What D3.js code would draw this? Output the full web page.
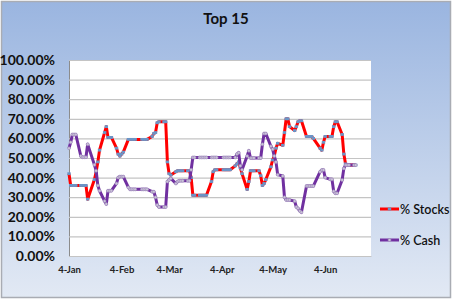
<!DOCTYPE html>
<html>
<head>
<meta charset="utf-8">
<script src="https://cdn.jsdelivr.net/npm/d3@7"></script>
<style>
  body { margin: 0; background: #fff; }
  svg { display: block; }
  text { font-family: Lato, "Open Sans", sans-serif; }
</style>
</head>
<body>
<svg width="452" height="300"></svg>
<script>
// trading days, 2010
var dates = [
  "01-04","01-05","01-06","01-07","01-08","01-11","01-12","01-13","01-14","01-15",
  "01-19","01-20","01-21","01-22","01-25","01-26","01-27","01-28","01-29",
  "02-01","02-02","02-03","02-04","02-05","02-08","02-09","02-10","02-11","02-12",
  "02-16","02-17","02-18","02-19","02-22","02-23","02-24","02-25","02-26",
  "03-01","03-02","03-03","03-04","03-05","03-08","03-09","03-10","03-11","03-12",
  "03-15","03-16","03-17","03-18","03-19","03-22","03-23","03-24","03-25","03-26",
  "03-29","03-30","03-31",
  "04-01","04-05","04-06","04-07","04-08","04-09","04-12","04-13","04-14","04-15","04-16",
  "04-19","04-20","04-21","04-22","04-23","04-26","04-27","04-28","04-29","04-30",
  "05-03","05-04","05-05","05-06","05-07","05-10","05-11","05-12","05-13","05-14",
  "05-17","05-18","05-19","05-20","05-21","05-24","05-25","05-26","05-27","05-28",
  "06-01","06-02","06-03","06-04","06-07","06-08","06-09","06-10","06-11",
  "06-14","06-15","06-16","06-17","06-18","06-21","06-22"
];

var stocks = [
  42, 36, 36, 36, 36, 36, 36, 36, 36, 29,
  39, 43, 48, 54, 63, 66, 60.5, 60.5, 60.5,
  55, 52, 51, 52, 53, 59.5, 59.5, 59.5, 59.5, 59.5,
  59.5, 59.5, 59.5, 59.5, 61, 62.5, 63, 68, 68.5,
  68.5, 68.5, 48, 42, 41.3, 43, 43.5, 43.5, 43.5, 43.5,
  43.5, 43.5, 40, 31, 31, 31, 31, 31, 31, 31,
  38, 43, 44,
  44, 44, 44, 44, 44, 44, 46, 47, 48, 45, 42,
  34, 38, 43.5, 43.5, 43.5, 43.5, 41, 36, 37, 39,
  45.5, 49, 51, 55, 57.5, 56.5, 63, 70, 70, 66,
  64, 66, 68.5, 69, 69, 61, 61, 61, 61, 60,
  55, 54, 58, 61, 61, 61, 66, 68.5, 68.5,
  62, 52, 47, 46.4, 46.4, 46.4, 46.4
];

var cash = [
  55, 58, 62, 62, 62, 51, 50.4, 50.4, 50.4, 57,
  46.5, 43.5, 36, 33.3, 28, 26.5, 33.3, 33.3, 33.3,
  37, 40, 40.5, 40.5, 40.5, 35, 34, 34, 34, 34,
  34, 34, 34, 34, 32.8, 32.8, 30, 26, 25,
  25, 25, 38, 38.8, 39.6, 37, 38, 38.4, 38.4, 38.4,
  38.4, 38.4, 44, 50.3, 50.3, 50.3, 50.3, 50.3, 50.3, 50.3,
  50.3, 50.3, 50.3,
  50.3, 50.3, 50.3, 50.3, 50.3, 50.3, 50.3, 52, 52.7, 46, 44,
  51, 53.7, 50, 50, 50, 50, 50, 57, 62.5, 62.5,
  56, 54.5, 51, 48, 41.5, 40.8, 30, 28.6, 28.6, 28.6,
  28, 25, 24.3, 23, 22.3, 35.7, 35.7, 35.7, 35.7, 35.7,
  43, 43.9, 43.9, 40, 39.1, 39.1, 33, 32, 32,
  38.8, 44.7, 46.4, 46.4, 46.4, 46.4, 46.4
];

var yTicks = [0, 0.1, 0.2, 0.3, 0.4, 0.5, 0.6, 0.7, 0.8, 0.9, 1];
var xTicks = ["2010-01-04", "2010-02-04", "2010-03-04", "2010-04-04", "2010-05-04", "2010-06-04"];
var seriesNames = ["% Stocks", "% Cash"];

var parse = d3.timeParse("%Y-%m-%d");
var svg = d3.select("svg");

var defs = svg.append("defs");
var grad = defs.append("linearGradient").attr("id", "bg")
  .attr("x1", 0).attr("y1", 0).attr("x2", 0).attr("y2", 1);
grad.append("stop").attr("offset", "0%").attr("stop-color", "#9ab5e0");
grad.append("stop").attr("offset", "100%").attr("stop-color", "#e2e9f4");

svg.append("rect").attr("x", 1.5).attr("y", 1.5).attr("width", 449).attr("height", 296)
  .attr("fill", "url(#bg)").attr("stroke", "#a9acb3").attr("stroke-width", 1.5);

svg.append("text").attr("x", 226).attr("y", 24).attr("text-anchor", "middle")
  .style("font-size", "15px").style("font-weight", "bold").attr("fill", "#111")
  .text("Top 15");

var x = d3.scaleTime().domain([parse("2010-01-04"), parse("2010-07-01")]).range([69, 371]);
var y = d3.scaleLinear().domain([0, 1]).range([256, 60]);

svg.append("rect").attr("x", 69).attr("y", 60).attr("width", 302).attr("height", 196)
  .attr("fill", "#fff");

// gridlines + y labels
var yAxis = d3.axisLeft(y).tickValues(yTicks).tickSize(-302).tickFormat(d3.format(".2%"));
var gy = svg.append("g").attr("transform", "translate(69,0)").call(yAxis);
gy.select(".domain").attr("stroke", "#8c8c8c");
gy.selectAll(".tick line").attr("stroke", "#c4c4c4").attr("stroke-width", 1.2);
gy.selectAll(".tick text").attr("x", -14).attr("fill", "#111")
  .style("font-size", "14px").style("font-weight", "bold").style("font-family", "Lato, sans-serif");

var xAxis = d3.axisBottom(x).tickValues(xTicks.map(parse)).tickSize(0).tickFormat(d3.timeFormat("%-d-%b"));
var gx = svg.append("g").attr("transform", "translate(0,256)").call(xAxis);
gx.select(".domain").attr("stroke", "#c4c4c4");
gx.selectAll(".tick text").attr("dy", "1.05em").attr("y", 7).attr("fill", "#222")
  .style("font-size", "9.5px").style("font-weight", "bold").style("font-family", "Lato, sans-serif");

var pts = dates.map(function(d, i) {
  return { date: parse("2010-" + d), stocks: stocks[i] / 100, cash: cash[i] / 100 };
});

var lineS = d3.line().x(function(d) { return x(d.date); }).y(function(d) { return y(d.stocks); });
var lineC = d3.line().x(function(d) { return x(d.date); }).y(function(d) { return y(d.cash); });

svg.append("path").datum(pts).attr("d", lineS).attr("fill", "none")
  .attr("stroke", "#ff0000").attr("stroke-width", 3).attr("stroke-linejoin", "round");
svg.append("g").selectAll("rect").data(pts).enter().append("rect")
  .attr("x", function(d) { return x(d.date) - 1.7; })
  .attr("y", function(d) { return y(d.stocks) - 1.4; })
  .attr("width", 3.4).attr("height", 2.8).attr("fill", "#6b94c6");

svg.append("path").datum(pts).attr("d", lineC).attr("fill", "none")
  .attr("stroke", "#7030a0").attr("stroke-width", 3).attr("stroke-linejoin", "round");
svg.append("g").selectAll("circle").data(pts).enter().append("circle")
  .attr("cx", function(d) { return x(d.date); })
  .attr("cy", function(d) { return y(d.cash); })
  .attr("r", 1.5).attr("fill", "#cbc3d8").attr("stroke", "#9a86b8").attr("stroke-width", 0.6);

// legend
var leg = svg.append("g");
var items = [{ name: seriesNames[0], color: "#ff0000", y: 209 }, { name: seriesNames[1], color: "#7030a0", y: 240 }];
items.forEach(function(it, i) {
  leg.append("line").attr("x1", 380).attr("x2", 399).attr("y1", it.y).attr("y2", it.y)
    .attr("stroke", it.color).attr("stroke-width", 3);
  if (i === 0) {
    leg.append("rect").attr("x", 387.8).attr("y", it.y - 1.4).attr("width", 3.4).attr("height", 2.8).attr("fill", "#6b94c6");
  } else {
    leg.append("circle").attr("cx", 389.5).attr("cy", it.y).attr("r", 1.5)
      .attr("fill", "#cbc3d8").attr("stroke", "#9a86b8").attr("stroke-width", 0.6);
  }
  leg.append("text").attr("x", 400).attr("y", it.y + 4.5).attr("fill", "#111")
    .style("font-size", "12.5px").style("font-weight", "600").text(it.name);
});
</script>
</body>
</html>
